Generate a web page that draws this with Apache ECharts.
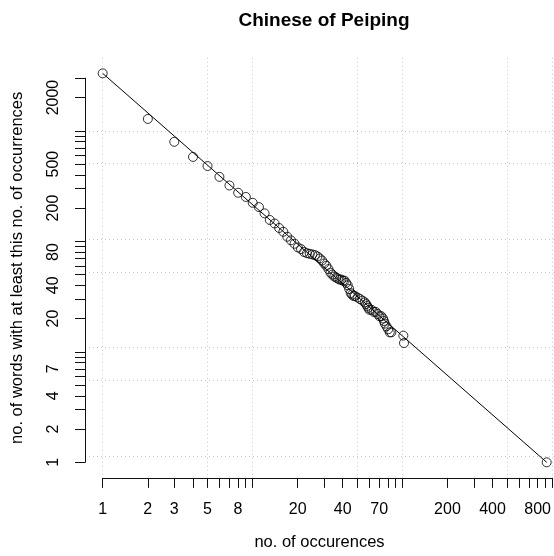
<!DOCTYPE html>
<html><head><meta charset="utf-8">
<script src="https://cdn.jsdelivr.net/npm/echarts@6/dist/echarts.min.js"></script>
<style>html,body{margin:0;padding:0;background:#fff}#c{width:554px;height:556px}</style>
</head><body><div id="c"></div>
<script>
// number of occurrences (x) and number of words with at least this number of occurrences (y)
const occurrences = [1,2,3,4,5,6,7,8,9,10,11,12,13,14,15,16,17,18,19,20,21,22,23,24,25,26,27,28,29,30,
  31,32,33,34,35,36,37,38,39,40,41,42,43,44,45,46,47,48,50,52,54,56,57,58,59,60,62,64,66,68,70,72,74,75,76,78,80,82,84,101,102,912];
const words = [3310,1280,795,580,480,383,320,275,252,223,204,179,156,145,132,122,110,102,95,88,85,80,78,77,76,75,73,70,67,63,
  60,56,52,50,48,47,46,45,45,44,44,42,40,37,34,33,32,32,31,30,29,28,27,26,25,24,24,23,23,22,21,21,20,19,18,17,16,15,15,14,12,1];
// fitted power-law line end points
const fitX = [1, 912];
const fitY = [3310, 1];
// axis ticks and labels
const xTicks = [1,2,3,4,5,6,7,8,9,10,20,30,40,50,60,70,80,90,100,200,300,400,500,600,700,800,900,1000];
const xLabels = [1,2,3,5,8,20,40,70,200,400,800];
const yTicks = [1,2,3,4,5,6,7,8,9,10,20,30,40,50,60,70,80,90,100,200,300,400,500,600,700,800,900,1000,2000,3000];
const yLabels = [1,2,4,7,20,40,80,200,500,2000];
const xGrid = [1,5,10,50,100,500,1000];
const yGrid = [1,5,10,50,100,500,1000];

const font = 'Liberation Sans, Arial, Helvetica, sans-serif';
const chart = echarts.init(document.getElementById('c'), null, {renderer: 'canvas'});
const gridLine = {show: true, lineStyle: {type: [1, 3], color: '#c8c8c8', width: 1}};
const hidden = (extra) => Object.assign({axisLine: {show: false}, axisTick: {show: false}, axisLabel: {show: false}, splitLine: {show: false}}, extra);

// layout: x=1 at 102.7px, 150px per decade; y=1 at 462.3px, 110.5px per decade
const option = {
  animation: false,
  backgroundColor: '#fff',
  textStyle: {fontFamily: font},
  graphic: [{
    type: 'text', x: 324, y: 21,
    style: {text: 'Chinese of Peiping', font: 'bold 19px ' + font, fill: '#000', textAlign: 'center', textVerticalAlign: 'middle'}
  }],
  grid: [
    {left: 102.7, top: 20.3, width: 450, height: 442},      // 0: data
    {left: 102.7, top: 57.8, width: 450, height: 420.1},    // 1: x axis
    {left: 85, top: 78.1, width: 479.5, height: 384.2},     // 2: y axis
    {left: 85, top: 130.8, width: 479.5, height: 331.5},    // 3: horizontal grid lines
    {left: 102.7, top: 57.8, width: 450, height: 420.1}     // 4: vertical grid lines
  ],
  xAxis: [
    {type: 'log', gridIndex: 0, min: 1, max: 1000, show: false},
    {type: 'log', gridIndex: 1, min: 1, max: 1000, position: 'bottom',
      axisLine: {show: true, onZero: false, lineStyle: {color: '#111', width: 1}},
      axisTick: {show: true, length: 10, customValues: xTicks, lineStyle: {color: '#111'}},
      axisLabel: {show: true, customValues: xLabels, formatter: v => String(v), margin: 24, fontSize: 16, color: '#000', fontFamily: font},
      splitLine: {show: false}},
    {type: 'value', gridIndex: 2, show: false},
    hidden({type: 'value', gridIndex: 3, position: 'bottom',
      name: 'no. of occurences', nameLocation: 'middle', nameGap: 78,
      nameTextStyle: {fontSize: 16.5, color: '#000', fontFamily: font}}),
    hidden({type: 'log', gridIndex: 4, min: 1, max: 1000,
      axisTick: {show: false, customValues: xGrid}, splitLine: gridLine})
  ],
  yAxis: [
    {type: 'log', gridIndex: 0, min: 1, max: 10000, show: false},
    {type: 'value', gridIndex: 1, show: false},
    {type: 'log', gridIndex: 2, min: 1, max: 3000, position: 'left',
      axisLine: {show: true, onZero: false, lineStyle: {color: '#111', width: 1}},
      axisTick: {show: true, length: 10, customValues: yTicks, lineStyle: {color: '#111'}},
      axisLabel: {show: true, customValues: yLabels, formatter: v => String(v), rotate: 90, margin: 23, fontSize: 16, color: '#000', fontFamily: font},
      splitLine: {show: false}},
    hidden({type: 'log', gridIndex: 3, min: 1, max: 1000,
      axisTick: {show: false, customValues: yGrid}, splitLine: gridLine}),
    hidden({type: 'value', gridIndex: 4, position: 'left',
      name: 'no. of words with at least this no. of occurrences', nameLocation: 'middle', nameGap: 77,
      nameTextStyle: {fontSize: 16.5, color: '#000', fontFamily: font}})
  ],
  series: [
    {type: 'scatter', xAxisIndex: 0, yAxisIndex: 0, symbol: 'circle', symbolSize: 9, clip: false,
      itemStyle: {color: 'rgba(0,0,0,0)', borderColor: '#000', borderWidth: 1},
      data: occurrences.map((x, i) => [x, words[i]]), z: 3},
    {type: 'line', xAxisIndex: 0, yAxisIndex: 0, showSymbol: false, symbol: 'none', clip: false,
      lineStyle: {color: '#000', width: 1},
      data: fitX.map((x, i) => [x, fitY[i]]), z: 2}
  ]
};
chart.setOption(option);
</script>
</body></html>
